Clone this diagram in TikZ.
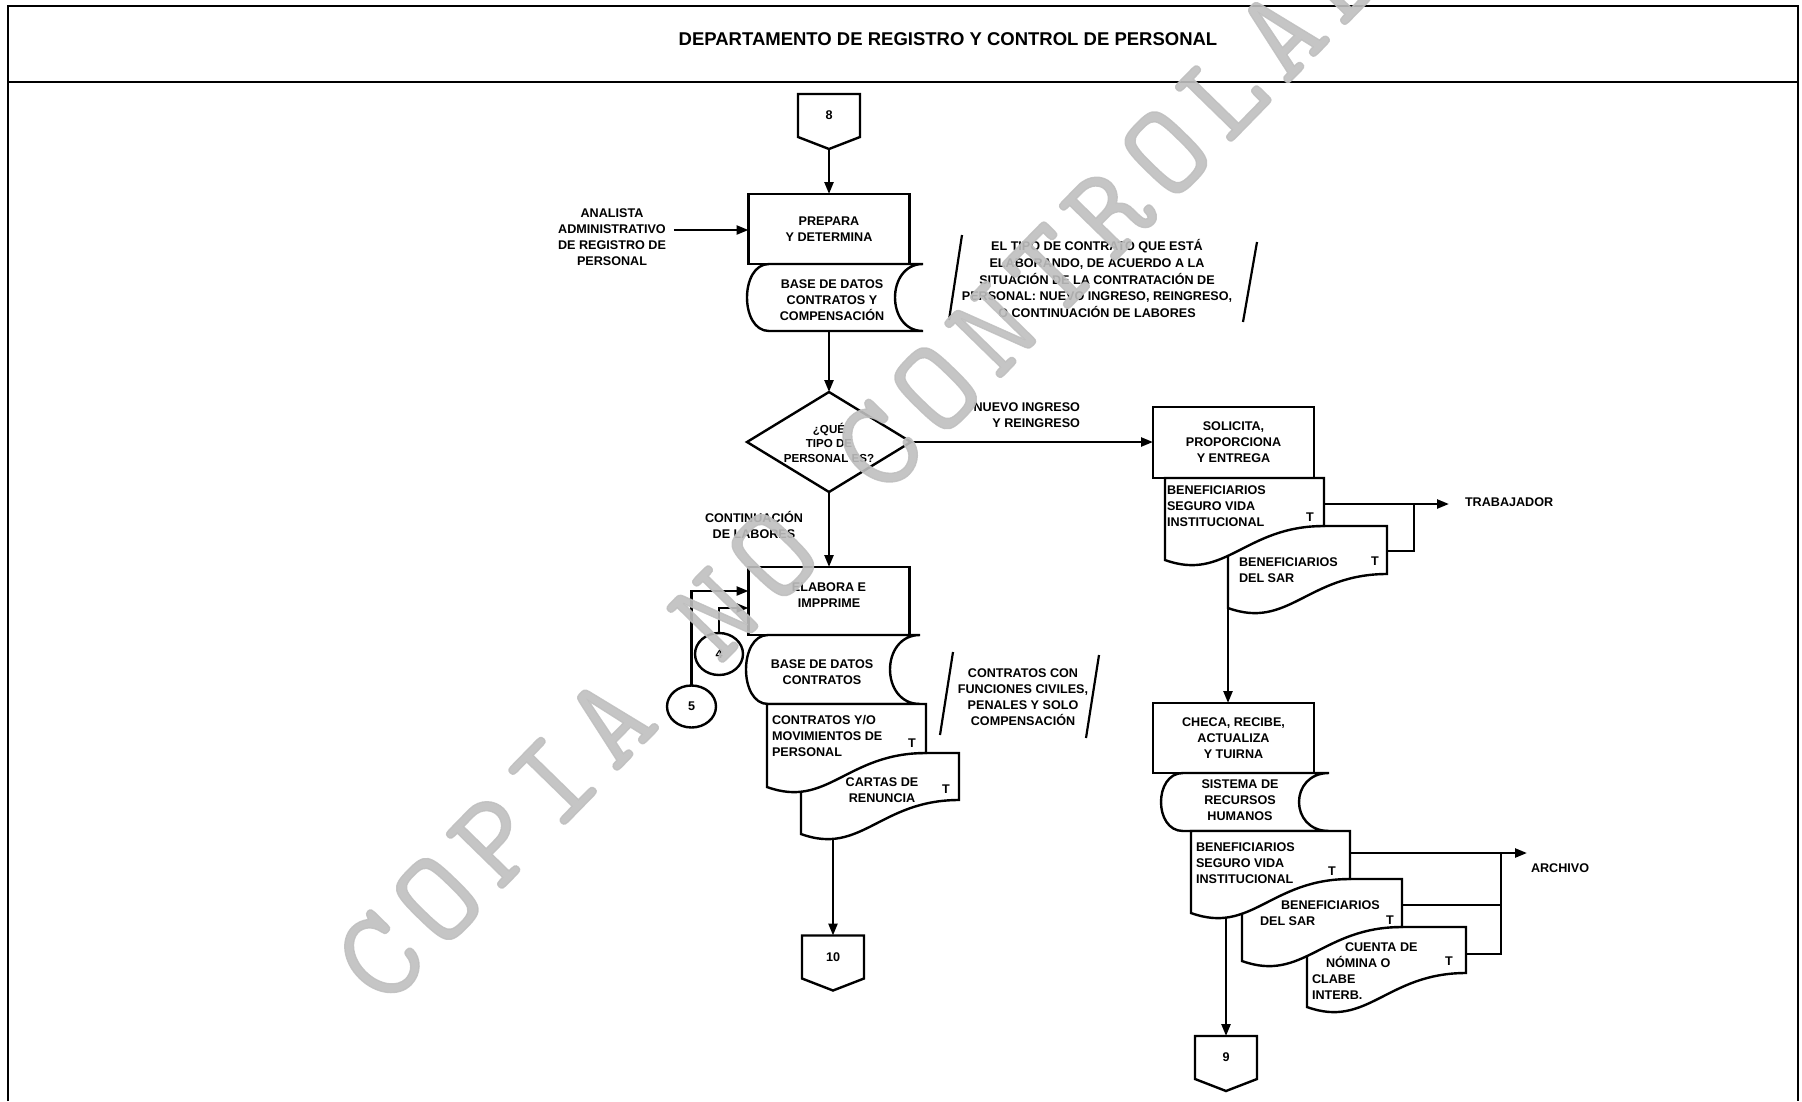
\documentclass[tikz,border=0pt]{standalone}
\usepackage{fontspec}
\setmainfont{Liberation Sans}
\newfontfamily\wmfont{lmmono10-regular}[Extension=.otf,LetterSpace=10.9,FakeBold=1.1]
\usetikzlibrary{arrows.meta,calc,shapes.geometric}

\tikzset{
  every node/.style={font=\bfseries\fontsize{12.6}{16}\selectfont, inner sep=0pt, outer sep=0pt},
  line/.style={line width=2.4pt, line join=miter},
  arr/.style={line, -{Triangle[length=12pt,width=9pt]}},
  procbox/.style={draw, line width=2.4pt, fill=white, minimum width=161pt, minimum height=70pt, align=center},
  offbody/.style={minimum width=62pt, minimum height=43pt},
  conncirc/.style={ellipse, draw, line width=2.4pt},
  ctext/.style={align=center},
  ltext/.style={align=left, anchor=west},
  decisiontxt/.style={align=center, font=\bfseries\fontsize{11.6}{14.5}\selectfont},
  titletxt/.style={font=\bfseries\fontsize{18.5}{22}\selectfont},
  slash/.style={line width=2.2pt},
  wmark/.style={font=\wmfont\fontsize{130}{130}\selectfont, text=black!25, text opacity=0.9},
}

% off-page connector: pentagon pointing down
\newcommand\offpageconn[4]{%
  \node[offbody] (#1) at (#2,#3) {#4};
  \draw[line] (#1.north west) -- (#1.north east) -- (#1.south east)
    -- ($(#1.south)+(0,12)$) coordinate (#1-tip) -- (#1.south west) -- cycle;}

% document symbol with wavy bottom edge
\newcommand\docshape[5]{%
  \pgfmathsetmacro\dw{#3-#2}%
  \filldraw[line, fill=white] (#2,#4) coordinate (#1-nw) -- (#3,#4) coordinate (#1-ne)
    -- (#3,#5) coordinate (#1-se)
    .. controls ({#2+0.5*\dw},#5) and ({#2+0.38*\dw},#5+56) .. (#2,#5+34) coordinate (#1-sw)
    -- cycle;}

% stored data symbol
\newcommand\storeshape[7]{%
  \filldraw[line, fill=white] (#2,#4) coordinate (#1-nw) -- (#3,#4) coordinate (#1-ne)
    .. controls ({#3-1.333*#7},#4) and ({#3-1.333*#7},#5) .. (#3,#5) coordinate (#1-se)
    -- (#2,#5) coordinate (#1-sw)
    .. controls ({#2-1.333*#6},#5) and ({#2-1.333*#6},#4) .. (#2,#4) -- cycle;}

\begin{document}
\begin{tikzpicture}[x=1pt,y=-1pt]
\useasboundingbox (0,0) rectangle (1802,1101);

% frame and header
\draw[line] (8,1101) -- (8,6) -- (1798,6) -- (1798,1101);
\draw[line] (8,82) -- (1798,82);
\node[titletxt] (title) at (948,39) {DEPARTAMENTO DE REGISTRO Y CONTROL DE PERSONAL};

% ---------- left column ----------
\offpageconn{p8}{829}{115.5}{8}
\node[procbox] (prep) at (829,229) {PREPARA\\Y DETERMINA};
\node[ctext] (analyst) at (612,237) {ANALISTA\\ADMINISTRATIVO\\DE REGISTRO DE\\PERSONAL};
\storeshape{ds1}{769}{923}{264}{331}{22}{28}
\node[ctext] (ds1t) at (832,300) {BASE DE DATOS\\CONTRATOS Y\\COMPENSACIÓN};

\draw[slash] (962,235) -- (949,320);
\draw[slash] (1257,242) -- (1243,322);
\node[ctext, font=\bfseries\fontsize{12.6}{16.6}\selectfont] (note1) at (1097,278.5)
  {EL TIPO DE CONTRATO QUE ESTÁ\\ELABORANDO, DE ACUERDO A LA\\SITUACIÓN DE LA CONTRATACIÓN DE\\PERSONAL: NUEVO INGRESO, REINGRESO,\\O CONTINUACIÓN DE LABORES};

\draw[line] (829,392) coordinate (dec-n) -- (911,442) coordinate (dec-e)
  -- (829,492) coordinate (dec-s) -- (747,442) coordinate (dec-w) -- cycle;
\node[decisiontxt] (dec) at (829,442.5) {¿QUÉ\\TIPO DE\\PERSONAL ES?};
\node[anchor=east, align=right] (nuevo) at (1080,415) {NUEVO INGRESO\\Y REINGRESO};
\node[ctext] (cont) at (754,525) {CONTINUACIÓN\\DE LABORES};

\node[procbox, minimum height=68pt] (elab) at (829,601) {ELABORA E\\IMPPRIME\\[-4pt]\mbox{}};
\storeshape{ds2}{768}{920}{635}{704}{22}{30}
\node[ctext] (ds2t) at (822,672) {BASE DE DATOS\\CONTRATOS};
\node[conncirc, minimum width=48pt, minimum height=42pt] (c4) at (719,654) {4};
\node[conncirc, minimum width=49pt, minimum height=42pt] (c5) at (691.5,706.5) {5};

\docshape{A2}{801}{959}{753}{800}
\docshape{A1}{767}{926}{704}{753}
\node[ltext] (a1t) at (772,735.5) {CONTRATOS Y/O\\MOVIMIENTOS DE\\PERSONAL};
\node (a1T) at (912,743) {T};
\node[ctext] (a2t) at (882,790) {CARTAS DE\\RENUNCIA};
\node (a2T) at (946,789) {T};

\draw[slash] (953,652) -- (940,735);
\draw[slash] (1099,655) -- (1086,738);
\node[ctext] (note2) at (1023,697.5) {CONTRATOS CON\\FUNCIONES CIVILES,\\PENALES Y SOLO\\COMPENSACIÓN};

\offpageconn{p10}{833}{957}{10}

% ---------- right column ----------
\node[procbox, minimum height=71pt] (solic) at (1233.5,442.5) {SOLICITA,\\PROPORCIONA\\Y ENTREGA};
\docshape{B2}{1228}{1387}{526}{574}
\docshape{B1}{1165}{1324}{478}{526}
\node[ltext] (b1t) at (1167,506.5) {BENEFICIARIOS\\SEGURO VIDA\\INSTITUCIONAL};
\node (b1T) at (1310,517) {T};
\node[ltext] (b2t) at (1239,570) {BENEFICIARIOS\\DEL SAR};
\node (b2T) at (1375,561) {T};
\node[anchor=west] (trab) at (1465,502) {TRABAJADOR};

\node[procbox] (checa) at (1233.5,738) {CHECA, RECIBE,\\ACTUALIZA\\Y TUIRNA};
\storeshape{ds3}{1183}{1329}{773}{831}{22}{30}
\node[ctext] (ds3t) at (1240,800) {SISTEMA DE\\RECURSOS\\HUMANOS};
\docshape{C3}{1307}{1466}{927}{973}
\docshape{C2}{1242}{1402}{879}{927}
\docshape{C1}{1191}{1350}{831}{879}
\node[ltext] (c1t) at (1196,863) {BENEFICIARIOS\\SEGURO VIDA\\INSTITUCIONAL};
\node (c1T) at (1332,871) {T};
\node[ltext] (c2t) at (1260,913.5) {\hspace*{21pt}BENEFICIARIOS\\DEL SAR};
\node (c2T) at (1390,920) {T};
\node[ltext] (c3t) at (1312,971) {\hspace*{33pt}CUENTA DE\\\hspace*{14pt}NÓMINA O\\CLABE\\INTERB.};
\node (c3T) at (1449,961) {T};
\node[anchor=west] (arch) at (1531,868) {ARCHIVO};

\offpageconn{p9}{1226}{1057.5}{9}

% ---------- connectors ----------
\coordinate (a2b) at (833,838);
\coordinate (b1out) at (1324,504);
\coordinate (jt) at (1414,504);
\coordinate (b2out) at (1387,551);
\coordinate (c1out) at (1350,853);
\coordinate (ja) at (1501,853);
\coordinate (archend) at (1527,853);
\coordinate (c2out) at (1402,905);
\coordinate (c3out) at (1466,954);
\coordinate (c1b) at (1226,918);

\draw[arr] (p8-tip) -- (prep.north);
\draw[arr] ($(analyst.east |- prep.west)+(8,1)$) -- ($(prep.west)+(0,1)$);
\draw[arr] (dec-n |- ds1-sw) -- (dec-n);
\draw[arr] (dec-e) -- (dec-e -| solic.west);
\draw[arr] (dec-s) -- (dec-s |- elab.north);
\draw[arr] (c5.north) |- ($(elab.west)+(0,-10)$);
\draw[arr] (c4.north) |- ($(elab.west)+(0,7)$);
\draw[arr] (a2b) -- (a2b |- p10.north);

\draw[arr] (b1out) -- ($(b1out -| trab.west)+(-16,0)$);
\draw[line] (b2out) -| (jt);
\draw[arr] (B2-sw) -- (B2-sw |- checa.north);
\draw[arr] (c1out) -- (archend);
\draw[line] (c2out) -| (ja);
\draw[line] (c3out) -| (ja);
\draw[arr] (c1b) -- (c1b |- p9.north);

% watermark
\node[wmark, rotate=45.7] (wm) at (888,437) {COPIA NO CONTROLADA};
\end{tikzpicture}
\end{document}
